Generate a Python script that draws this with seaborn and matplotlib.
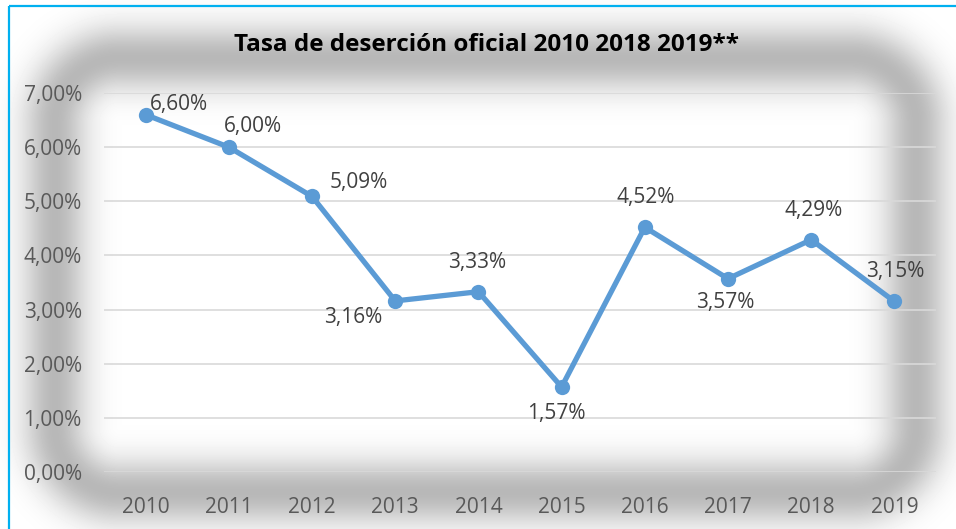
import numpy as np
import pandas as pd
import seaborn as sns
import matplotlib.pyplot as plt

# data
years = ["2010", "2011", "2012", "2013", "2014", "2015", "2016", "2017", "2018", "2019"]
tasa = [6.60, 6.00, 5.09, 3.16, 3.33, 1.57, 4.52, 3.57, 4.29, 3.15]
etiquetas = ["6,60%", "6,00%", "5,09%", "3,16%", "3,33%", "1,57%", "4,52%", "3,57%", "4,29%", "3,15%"]
yticks = [0, 1, 2, 3, 4, 5, 6, 7]

# label offsets in pixels (dx, dy) from each point
offsets = [(33, 10), (24, 21), (47, 14), (-42, -17), (-1, 29),
           (-5, -27), (1, 30), (-3, -24), (2, 29), (1, 30)]

sns.set_style("white")
plt.rcParams['font.family'] = ['Open Sans', 'DejaVu Sans']

W, H = 956, 529
fig = plt.figure(figsize=(W / 100, H / 100), dpi=100)

# background: soft grey glow around the chart + blue frame
bg = fig.add_axes([0, 0, 1, 1], zorder=0)
yy, xx = np.mgrid[0:H, 0:W] + 0.5
x0, x1, y0, y1, r = 55, 916, 58, 492, 65
cx, cy = (x0 + x1) / 2, (y0 + y1) / 2
qx = np.abs(xx - cx) - ((x1 - x0) / 2 - r)
qy = np.abs(yy - cy) - ((y1 - y0) / 2 - r)
d = np.hypot(np.maximum(qx, 0), np.maximum(qy, 0)) + np.minimum(np.maximum(qx, qy), 0) - r
glow = 1 - 0.28 * np.exp(-d ** 2 / (2 * 23 ** 2))
bg.imshow(glow, cmap='gray', vmin=0, vmax=1, extent=(0, W, H, 0), aspect='auto',
          interpolation='bilinear')
bg.plot([9, 9], [6, H + 5], color='#00B0F0', lw=1.6, solid_capstyle='butt')
bg.plot([9, W + 5], [6, 6], color='#00B0F0', lw=1.6, solid_capstyle='butt')
bg.set_xlim(0, W)
bg.set_ylim(H, 0)
bg.axis('off')

# main chart
ax = fig.add_axes([104 / W, 1 - 472 / H, 832 / W, 379 / H], zorder=1)
ax.patch.set_alpha(0)

df = pd.DataFrame({'pos': np.arange(len(years)), 'tasa': tasa})
sns.lineplot(data=df, x='pos', y='tasa', ax=ax, color='#5B9BD5', lw=3.8,
             marker='o', markersize=11, markeredgewidth=0, zorder=3)

ax.set_xlim(-0.5, len(years) - 0.5)
ax.set_ylim(0, 7)
ax.set_xticks(range(len(years)))
ax.set_xticklabels(years)
ax.set_yticks(yticks)
ax.set_yticklabels([f"{v},00%" for v in yticks])
ax.tick_params(axis='both', length=0, labelsize=15, colors='#595959')
ax.tick_params(axis='y', pad=16)
ax.tick_params(axis='x', pad=18)
ax.grid(axis='y', color='#D9D9D9', lw=1.2)
ax.set_axisbelow(True)
for s in ax.spines.values():
    s.set_visible(False)
ax.set_xlabel('')
ax.set_ylabel('')

for i, (v, lab) in enumerate(zip(tasa, etiquetas)):
    dx, dy = offsets[i]
    ax.annotate(lab, (i, v), xytext=(dx, dy), textcoords='offset pixels',
                ha='center', va='center', fontsize=15, color='#404040', zorder=4)

fig.text(486 / W, 1 - 45 / H, "Tasa de deserción oficial 2010 2018 2019**",
         ha='center', va='center', fontsize=17.5, fontweight='bold', color='black')

fig.savefig('out.png', dpi=100)
